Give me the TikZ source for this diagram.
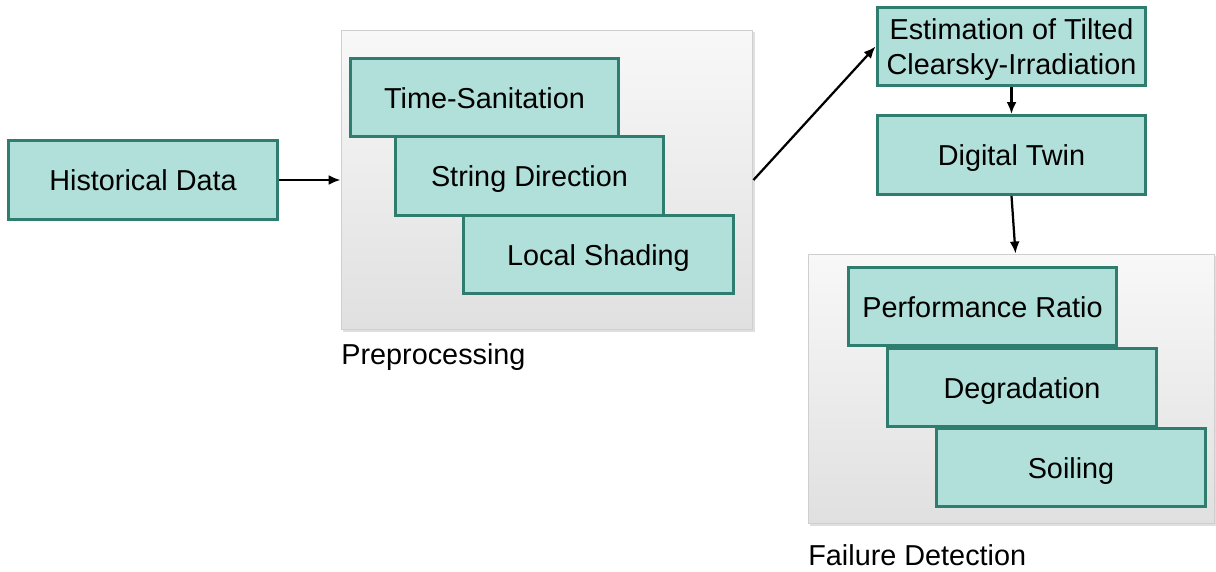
\documentclass[tikz,border=0pt]{standalone}
\usepackage{fontspec}
\setmainfont{Liberation Sans}
\usepackage{xcolor}
\usetikzlibrary{arrows.meta,positioning,shadows}
\definecolor{tealfill}{HTML}{B0E0D9}
\definecolor{tealline}{HTML}{2E7D6E}
\definecolor{panelline}{HTML}{CFCFCF}
\definecolor{paneltop}{HTML}{F8F8F8}
\definecolor{panelbot}{HTML}{E0E0E0}
\tikzset{
  tealbox/.style={draw=tealline, line width=0.06cm, fill=tealfill, align=center, inner sep=0pt,
    minimum width=5.38cm, minimum height=1.58cm, text height=15pt, text depth=3pt,
    font=\fontsize{16.4}{19.5}\selectfont},
  panel/.style={draw=panelline, line width=0.02cm, top color=paneltop, bottom color=panelbot,
    drop shadow={shadow xshift=0.04cm, shadow yshift=-0.04cm, fill=black!25}},
  caption/.style={anchor=west, inner sep=0pt, font=\fontsize{16.4}{19.5}\selectfont},
  arrow/.style={-{Latex[length=0.24cm,width=0.2cm]}, line width=0.045cm, draw=black}
}
\begin{document}
\begin{tikzpicture}[x=0.02cm,y=-0.02cm]
\useasboundingbox (0,0) rectangle (1216,571);
% panels
\node[panel, minimum width=8.24cm, minimum height=6cm] (pre) at (547,180) {};
\node[panel, minimum width=8.14cm, minimum height=5.4cm] (fail) at (1011.5,389) {};
\node[caption] (prelabel) at (341,357) {Preprocessing};
\node[caption] (faillabel) at (808,555) {Failure Detection};
% boxes
\node[tealbox, minimum width=5.4cm] (hist) at (143,180) {Historical Data};
\node[tealbox] (time) at (484.5,97.5) {Time-Sanitation};
\node[tealbox] (string) at (529.5,176) {String Direction};
\node[tealbox, minimum width=5.42cm] (shade) at (598.5,254.5) {Local Shading};
\node[tealbox, text height=, text depth=-4pt] (est) at (1011.5,46.5) {Estimation of Tilted\\Clearsky-Irradiation};
\node[tealbox] (twin) at (1011.5,155) {Digital Twin};
\node[tealbox] (perf) at (982.5,306.5) {Performance Ratio};
\node[tealbox, minimum width=5.4cm] (degr) at (1022,387.5) {Degradation};
\node[tealbox, minimum width=5.4cm] (soil) at (1071,467.5) {Soiling};
% connectors
\draw[arrow] (hist) -- (pre);
\draw[arrow] (pre.east) -- (est.west);
\draw[arrow] (est) -- (twin);
\draw[arrow] (twin.south) -- ([xshift=0.08cm]fail.north);
\end{tikzpicture}
\end{document}
